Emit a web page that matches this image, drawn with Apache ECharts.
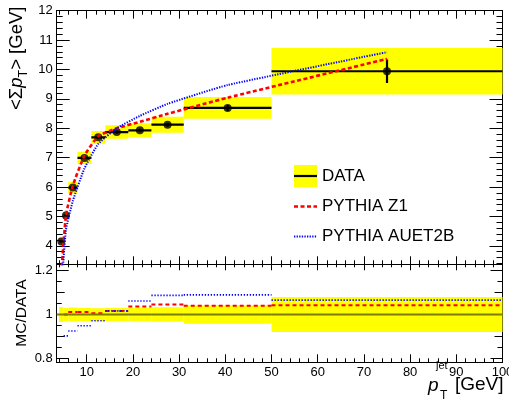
<!DOCTYPE html>
<html>
<head>
<meta charset="utf-8">
<script src="https://cdn.jsdelivr.net/npm/echarts@6/dist/echarts.min.js"></script>
<style>
html, body { margin: 0; padding: 0; background: #ffffff; }
#chart { width: 509px; height: 406px; }
</style>
</head>
<body>
<div id="chart"></div>
<script>
// Jet pT bins [GeV] and the measured mean charged sum pT per bin
const binEdges     = [4, 5, 6, 8, 11, 14, 19, 24, 31, 50, 100];
const binCenters   = [4.5, 5.5, 7, 9.5, 12.5, 16.5, 21.5, 27.5, 40.5, 75];
const dataMean     = [4.15, 5.03, 5.98, 6.99, 7.69, 7.87, 7.93, 8.12, 8.69, 9.94];
const dataStat     = [0.02, 0.02, 0.03, 0.03, 0.04, 0.05, 0.05, 0.07, 0.10, 0.40];
const dataSyst     = [0.14, 0.15, 0.19, 0.21, 0.22, 0.23, 0.24, 0.27, 0.37, 0.79];
// Generator predictions at the bin centres
const pythiaZ1     = [3.08, 5.03, 6.05, 7.07, 7.73, 8.00, 8.22, 8.49, 9.04, 10.36];
const pythiaAUET2B = [2.45, 4.54, 5.53, 6.63, 7.47, 8.00, 8.42, 8.83, 9.47, 10.59];

// Tick positions and labels
const xMajor = [10, 20, 30, 40, 50, 60, 70, 80, 90, 100];
const yTopMajor = [4, 5, 6, 7, 8, 9, 10, 11, 12];
const yRatioMajor = [0.8, 1.0, 1.2];
const yRatioLabels = ['0.8', '1', '1.2'];

const X_MIN = 3.5, X_MAX = 100;
const Y_MIN = 3.37, Y_MAX = 12;
const R_MIN = 0.782, R_MAX = 1.229;

const FONT = '"Liberation Sans", Arial, Helvetica, sans-serif';

function range(a, b, step, skip) {
  const out = [];
  for (let v = a; v <= b + 1e-9; v += step) {
    const r = Math.round(v * 1000) / 1000;
    if (!skip || !skip(r)) out.push(r);
  }
  return out;
}
const xMinor = range(4, 98, 2, v => v % 10 === 0);
const yTopMinor = range(3.4, 11.8, 0.2, v => Math.abs(v - Math.round(v)) < 1e-6);
const yRatioMid = [0.9, 1.1];
const yRatioMinor = [0.85, 0.95, 1.05, 1.15];

function axis(grid, pos, min, max, ticks, len, withLabels, labelText) {
  return {
    type: 'value', gridIndex: grid, position: pos, min: min, max: max,
    axisLine: { show: true, onZero: false, lineStyle: { color: '#000', width: 1 } },
    axisTick: { show: true, inside: true, length: len, customValues: ticks,
                lineStyle: { color: '#000', width: 1 } },
    axisLabel: { show: !!withLabels, customValues: ticks,
                 color: '#000', fontFamily: FONT, fontSize: 13, margin: 4,
                 formatter: labelText || (v => String(v)) },
    splitLine: { show: false },
    minorTick: { show: false }
  };
}

const ratioLabel = v => {
  const i = yRatioMajor.findIndex(t => Math.abs(t - v) < 1e-6);
  return i >= 0 ? yRatioLabels[i] : '';
};

const xAxes = [
  axis(0, 'bottom', X_MIN, X_MAX, xMajor, 8, false),
  axis(0, 'bottom', X_MIN, X_MAX, xMinor, 4, false),
  axis(0, 'top', X_MIN, X_MAX, xMajor, 8, false),
  axis(0, 'top', X_MIN, X_MAX, xMinor, 4, false),
  axis(1, 'bottom', X_MIN, X_MAX, xMajor, 8, true),
  axis(1, 'bottom', X_MIN, X_MAX, xMinor, 4, false),
  axis(1, 'top', X_MIN, X_MAX, xMajor, 6, false),
  axis(1, 'top', X_MIN, X_MAX, xMinor, 3, false)
];
const yAxes = [
  axis(0, 'left', Y_MIN, Y_MAX, yTopMajor, 13, true),
  axis(0, 'left', Y_MIN, Y_MAX, yTopMinor, 6, false),
  axis(0, 'right', Y_MIN, Y_MAX, yTopMajor, 13, false),
  axis(0, 'right', Y_MIN, Y_MAX, yTopMinor, 6, false),
  axis(1, 'left', R_MIN, R_MAX, yRatioMajor, 12, true, ratioLabel),
  axis(1, 'left', R_MIN, R_MAX, yRatioMid, 8, false),
  axis(1, 'left', R_MIN, R_MAX, yRatioMinor, 5, false),
  axis(1, 'right', R_MIN, R_MAX, yRatioMajor, 12, false),
  axis(1, 'right', R_MIN, R_MAX, yRatioMid, 8, false),
  axis(1, 'right', R_MIN, R_MAX, yRatioMinor, 5, false)
];

// Per-bin rows used by the custom series
const binRows = binCenters.map((c, i) => [binEdges[i], binEdges[i + 1], dataMean[i], dataSyst[i], dataStat[i], c]);
const ratioBand = binCenters.map((c, i) => [binEdges[i], binEdges[i + 1], 1 - dataSyst[i] / dataMean[i], 1 + dataSyst[i] / dataMean[i]]);
const ratioZ1 = binCenters.map((c, i) => [binEdges[i], binEdges[i + 1], pythiaZ1[i] / dataMean[i]]);
const ratioAU = binCenters.map((c, i) => [binEdges[i], binEdges[i + 1], pythiaAUET2B[i] / dataMean[i]]);

function boxItem(params, api) {
  const lo = api.value(0), hi = api.value(1), m = api.value(2), s = api.value(3);
  const p1 = api.coord([lo, m + s]);
  const p2 = api.coord([hi, m - s]);
  return { type: 'rect', shape: { x: p1[0], y: p1[1], width: p2[0] - p1[0], height: p2[1] - p1[1] },
           style: { fill: '#ffff00' } };
}
function bandItem(params, api) {
  const lo = api.value(0), hi = api.value(1), a = api.value(2), b = api.value(3);
  const p1 = api.coord([lo, b]);
  const p2 = api.coord([hi, a]);
  return { type: 'rect', shape: { x: p1[0], y: p1[1], width: p2[0] - p1[0], height: p2[1] - p1[1] },
           style: { fill: '#ffff00' } };
}
function barItem(params, api) {
  const lo = api.value(0), hi = api.value(1), m = api.value(2), st = api.value(4), c = api.value(5);
  const a = api.coord([lo, m]), b = api.coord([hi, m]);
  const u = api.coord([c, m + st]), d = api.coord([c, m - st]);
  return { type: 'group', children: [
    { type: 'line', shape: { x1: a[0], y1: a[1], x2: b[0], y2: b[1] }, style: { stroke: '#000', lineWidth: 2.2 } },
    { type: 'line', shape: { x1: u[0], y1: u[1], x2: d[0], y2: d[1] }, style: { stroke: '#000', lineWidth: 2.2 } }
  ] };
}
function stepItem(color, dash, width) {
  return function (params, api) {
    const lo = api.value(0), hi = api.value(1), r = api.value(2);
    const a = api.coord([lo, r]), b = api.coord([hi, r]);
    return { type: 'line', shape: { x1: a[0], y1: a[1], x2: b[0], y2: b[1] },
             style: { stroke: color, lineWidth: width, lineDash: dash } };
  };
}

const series = [
  { type: 'custom', name: 'syst', xAxisIndex: 0, yAxisIndex: 0, clip: true, silent: true,
    renderItem: boxItem, encode: { x: [0, 1], y: 2 }, data: binRows },
  { type: 'custom', name: 'DATA', xAxisIndex: 0, yAxisIndex: 0, clip: true, silent: true,
    renderItem: barItem, encode: { x: [0, 1], y: 2 }, data: binRows },
  { type: 'scatter', name: 'DATA points', xAxisIndex: 0, yAxisIndex: 0, symbol: 'circle', symbolSize: 8,
    itemStyle: { color: '#000' }, silent: true, data: binCenters.map((c, i) => [c, dataMean[i]]) },
  { type: 'line', name: 'PYTHIA Z1', xAxisIndex: 0, yAxisIndex: 0, smooth: 0.15,
    showSymbol: false, clip: true, silent: true,
    lineStyle: { color: '#ff0000', width: 2.6, type: [4, 2.5] },
    data: binCenters.map((c, i) => [c, pythiaZ1[i]]) },
  { type: 'line', name: 'PYTHIA AUET2B', xAxisIndex: 0, yAxisIndex: 0, smooth: 0.15,
    showSymbol: false, clip: true, silent: true,
    lineStyle: { color: '#0000ff', width: 2, type: [1.3, 1.3] },
    data: binCenters.map((c, i) => [c, pythiaAUET2B[i]]) },

  { type: 'custom', name: 'ratio syst', xAxisIndex: 4, yAxisIndex: 4, clip: true, silent: true,
    renderItem: bandItem, encode: { x: [0, 1], y: [2, 3] }, data: ratioBand },
  { type: 'line', name: 'unity', xAxisIndex: 4, yAxisIndex: 4, showSymbol: false, silent: true,
    lineStyle: { color: '#7d7d00', width: 2 }, data: [[X_MIN, 1], [X_MAX, 1]] },
  { type: 'custom', name: 'Z1 / DATA', xAxisIndex: 4, yAxisIndex: 4, clip: true, silent: true,
    renderItem: stepItem('#ff0000', [4, 3], 2), encode: { x: [0, 1], y: 2 }, data: ratioZ1 },
  { type: 'custom', name: 'AUET2B / DATA', xAxisIndex: 4, yAxisIndex: 4, clip: true, silent: true,
    renderItem: stepItem('#0000ff', [1.3, 1.7], 1.6), encode: { x: [0, 1], y: 2 }, data: ratioAU }
];

const chart = echarts.init(document.getElementById('chart'), null, { renderer: 'canvas' });
chart.setOption({
  animation: false,
  backgroundColor: '#ffffff',
  grid: [
    { left: 56.7, top: 10.7, width: 445.8, height: 253.6, outerBoundsMode: 'none', containLabel: false },
    { left: 56.7, top: 264.3, width: 445.8, height: 98, outerBoundsMode: 'none', containLabel: false }
  ],
  xAxis: xAxes,
  yAxis: yAxes,
  series: series,
  graphic: [
    // legend
    { type: 'rect', shape: { x: 294, y: 165, width: 23, height: 22 }, style: { fill: '#ffff00' } },
    { type: 'line', shape: { x1: 294, y1: 176, x2: 317, y2: 176 }, style: { stroke: '#000', lineWidth: 2.2 } },
    { type: 'text', x: 322, y: 176, style: { text: 'DATA', font: '17px ' + FONT, fill: '#000', verticalAlign: 'middle' } },
    { type: 'line', shape: { x1: 294, y1: 206.5, x2: 317, y2: 206.5 }, style: { stroke: '#ff0000', lineWidth: 2.6, lineDash: [4, 2.5] } },
    { type: 'text', x: 322, y: 206.5, style: { text: 'PYTHIA Z1', font: '17px ' + FONT, fill: '#000', verticalAlign: 'middle' } },
    { type: 'line', shape: { x1: 294, y1: 236.5, x2: 317, y2: 236.5 }, style: { stroke: '#0000ff', lineWidth: 2, lineDash: [1.3, 1.3] } },
    { type: 'text', x: 322, y: 236.5, style: { text: 'PYTHIA AUET2B', font: '17px ' + FONT, fill: '#000', verticalAlign: 'middle' } },

    // y title of the upper panel
    { type: 'text', x: 19, y: 110, rotation: Math.PI / 2,
      style: { text: '{a|<Σ}{p|p}{s|T}{a|> [GeV]}', align: 'left', verticalAlign: 'middle', fill: '#000',
        rich: {
          a: { fontFamily: FONT, fontSize: 18.5, lineHeight: 23, verticalAlign: 'top' },
          p: { fontFamily: FONT, fontSize: 18.5, fontStyle: 'italic', lineHeight: 23, verticalAlign: 'top' },
          s: { fontFamily: FONT, fontSize: 12.5, lineHeight: 12, verticalAlign: 'bottom' }
        } } },
    // y title of the ratio panel
    { type: 'text', x: 22, y: 313, rotation: Math.PI / 2,
      style: { text: 'MC/DATA', font: '15.5px ' + FONT, fill: '#000', align: 'center', verticalAlign: 'middle' } },

    // x title
    { type: 'text', x: 428, y: 386, style: { text: 'p', font: 'italic 19px ' + FONT, fill: '#000', verticalAlign: 'middle' } },
    { type: 'text', x: 436, y: 371, style: { text: 'jet', font: '11px ' + FONT, fill: '#000', verticalAlign: 'bottom' } },
    { type: 'text', x: 440, y: 396, style: { text: 'T', font: '12px ' + FONT, fill: '#000', verticalAlign: 'middle' } },
    { type: 'text', x: 455, y: 385, style: { text: '[GeV]', font: '19px ' + FONT, fill: '#000', verticalAlign: 'middle' } }
  ]
});
</script>
</body>
</html>
